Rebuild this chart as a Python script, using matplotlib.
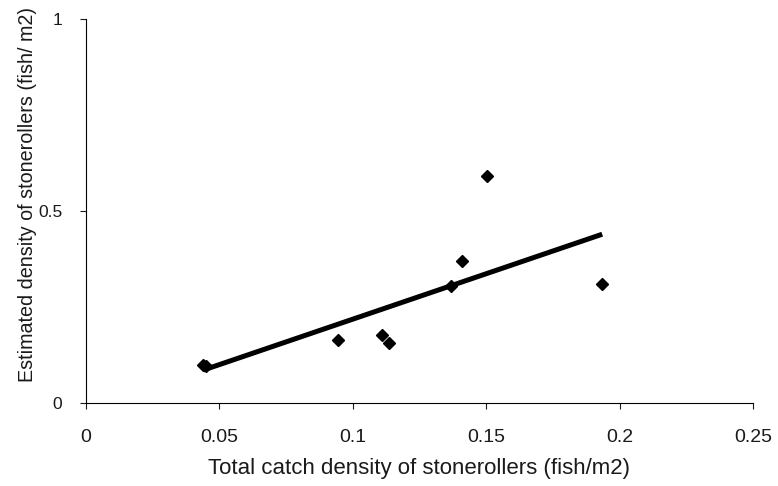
import matplotlib
matplotlib.use("Agg")
import matplotlib.pyplot as plt
from matplotlib.ticker import FormatStrFormatter
import numpy as np

# total catch density vs estimated density (fish/m2)
catch_density = [0.044, 0.045, 0.0945, 0.111, 0.1135, 0.137, 0.141, 0.1505, 0.1935]
estimated_density = [0.100, 0.095, 0.165, 0.177, 0.156, 0.305, 0.370, 0.592, 0.310]

x_ticks = [0, 0.05, 0.1, 0.15, 0.2, 0.25]
y_ticks = [0, 0.5, 1]

plt.rcParams['font.family'] = ['Liberation Sans', 'DejaVu Sans']

fig = plt.figure(figsize=(7.78, 4.86), dpi=100)
ax = fig.add_axes([0.1105, 0.171, 0.8573, 0.79])

# linear trendline, like the spreadsheet one
slope, intercept = np.polyfit(catch_density, estimated_density, 1)
xs = np.array([min(catch_density), max(catch_density)])
ax.plot(xs, slope * xs + intercept, color='black', linewidth=3.6, solid_capstyle='butt', zorder=2)

ax.plot(catch_density, estimated_density, linestyle='none', marker='D', markersize=6.5,
        color='black', zorder=3)

ax.set_xlim(0, 0.25)
ax.set_ylim(0, 1)
ax.set_xticks(x_ticks)
ax.set_yticks(y_ticks)
ax.xaxis.set_major_formatter(FormatStrFormatter('%g'))
ax.yaxis.set_major_formatter(FormatStrFormatter('%g'))
ax.tick_params(axis='both', direction='out', length=4, width=0.8, colors='#1a1a1a')
ax.tick_params(axis='x', pad=14.5, labelsize=14)
ax.tick_params(axis='y', pad=13, labelsize=12.5)

for side in ['top', 'right']:
    ax.spines[side].set_visible(False)
for side in ['left', 'bottom']:
    ax.spines[side].set_linewidth(0.8)

ax.set_xlabel('Total catch density of stonerollers (fish/m2)', fontsize=16, labelpad=9, color='#1a1a1a')
ax.set_ylabel('Estimated density of stonerollers (fish/ m2)', fontsize=14.2, labelpad=2, color='#1a1a1a')
ax.yaxis.set_label_coords(-0.074, 0.542)

fig.savefig('out.png', dpi=100)
